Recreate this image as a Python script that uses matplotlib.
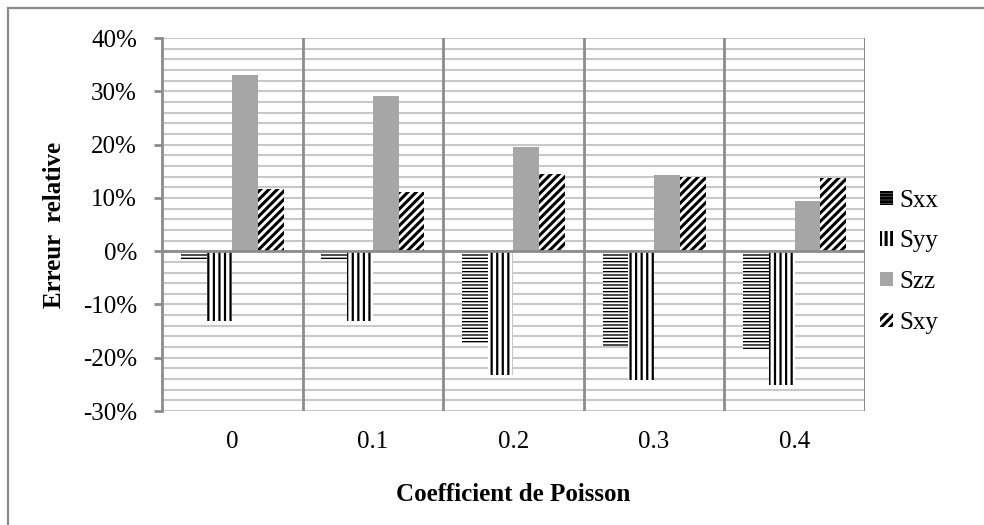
import matplotlib
matplotlib.use("Agg")
import matplotlib.pyplot as plt
from matplotlib.patches import Rectangle
from matplotlib.ticker import MultipleLocator, FuncFormatter
import numpy as np

categories = ["0", "0.1", "0.2", "0.3", "0.4"]
sxx = [-1.9, -1.9, -17.3, -17.8, -18.6]
syy = [-13.1, -13.1, -23.3, -24.2, -25.1]
szz = [33.0, 29.1, 19.5, 14.3, 9.4]
sxy = [11.6, 11.1, 14.4, 13.9, 13.7]

plt.rcParams["font.family"] = ["Liberation Serif", "DejaVu Serif"]

fig = plt.figure(figsize=(9.84, 5.25), dpi=100)
ax = fig.add_axes([0.1646, 0.217, 0.7144, 0.7106])

# outer chart frame (only top and left edges fall inside the image)
fig.patches.append(Rectangle((8 / 984, -0.2), 1.2, 1.2 - 8 / 525,
                             transform=fig.transFigure, fill=False,
                             edgecolor="#8a8a8a", linewidth=1.6, zorder=0))

x = np.arange(len(categories))
w = 0.183
series = [
    ("Sxx", sxx, "white", "-----", 1.0),
    ("Syy", syy, "white", "|||", 1.6),
    ("Szz", szz, "#a6a6a6", None, 1.0),
    ("Sxy", sxy, "white", "////", 2.2),
]
for i, (name, vals, fc, hatch, hlw) in enumerate(series):
    plt.rcParams["hatch.linewidth"] = hlw
    ax.bar(x + (i - 1.5) * w, vals, w, color=fc, hatch=hatch,
           edgecolor="black" if hatch else fc, linewidth=0, label=name, zorder=3)

ax.set_xlim(-0.5, len(categories) - 0.5)
ax.set_ylim(-30, 40)

# light horizontal gridlines every 2 %
for yv in np.arange(-30, 41, 2):
    ax.axhline(yv, color="#c8c8c8", linewidth=1.5, zorder=1)
# category dividers
for xv in np.arange(0.5, len(categories), 1.0):
    ax.axvline(xv, color="#8c8c8c", linewidth=2, zorder=2)
ax.axvline(len(categories) - 0.5, color="#8c8c8c", linewidth=2, zorder=2)
ax.axhline(0, color="#8c8c8c", linewidth=2, zorder=4)

for s in ["top", "right", "bottom"]:
    ax.spines[s].set_visible(False)
ax.spines["left"].set_color("#8c8c8c")
ax.spines["left"].set_linewidth(2)

ax.yaxis.set_major_locator(MultipleLocator(10))
ax.yaxis.set_major_formatter(FuncFormatter(lambda v, p: f"{v:.0f}%"))
ax.tick_params(axis="y", length=6, width=2, color="#8c8c8c", pad=12,
               labelsize=18)
ax.set_xticks(x)
ax.set_xticklabels(categories)
ax.tick_params(axis="x", length=0, pad=14, labelsize=18)

ax.set_xlabel("Coefficient de Poisson", fontsize=18, fontweight="bold",
              labelpad=22)
ax.set_ylabel("Erreur  relative", fontsize=18, fontweight="bold", labelpad=12)

ax.legend(loc="center left", bbox_to_anchor=(0.99, 0.40), frameon=False,
          fontsize=18, handlelength=0.5, handleheight=0.5, handletextpad=0.25,
          labelspacing=0.75)

fig.savefig("out.png", dpi=100)
